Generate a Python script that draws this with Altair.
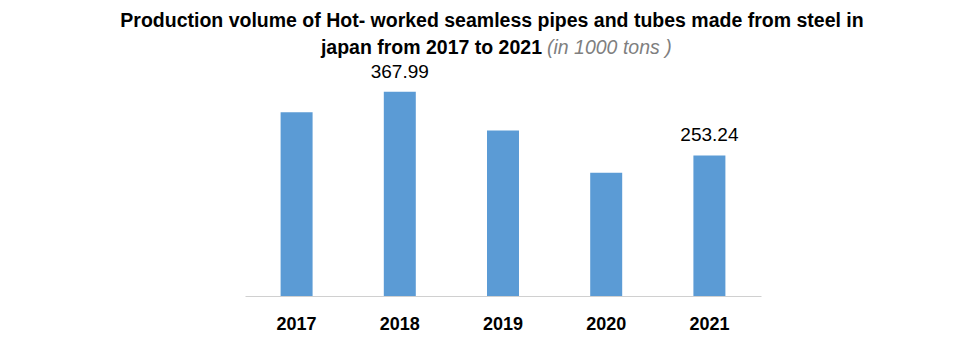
import altair as alt
import pandas as pd

years = ["2017", "2018", "2019", "2020", "2021"]
values = [331.0, 367.99, 298.0, 222.0, 253.24]
labels = ["", "367.99", "", "", "253.24"]

title_line1 = "Production volume of Hot- worked seamless pipes and tubes made from steel in"
title_line2a = "japan from 2017 to 2021"
title_line2b = "(in 1000 tons )"

df = pd.DataFrame({"year": years, "value": values, "label": labels})

FONT = "Liberation Sans"

x_enc = alt.X(
    "year:N",
    sort=years,
    scale=alt.Scale(paddingInner=0.69, paddingOuter=0.345),
    axis=alt.Axis(
        title=None, labelAngle=0, ticks=False, domainColor="#d0d0d0", domainWidth=1,
        labelFont=FONT, labelFontSize=18, labelFontWeight="bold", labelColor="#000000",
        labelPadding=19,
    ),
)
y_enc = alt.Y("value:Q", scale=alt.Scale(domain=[0, 400], nice=False), axis=None)

base = alt.Chart(df)
bars = base.mark_bar(color="#5b9bd5").encode(x=x_enc, y=y_enc)
text = base.mark_text(font=FONT, fontSize=19, color="#000000", baseline="alphabetic", dy=-14).encode(
    x=x_enc, y=y_enc, text="label:N"
)

t1 = alt.Chart(pd.DataFrame({"t": [title_line1]})).mark_text(
    font=FONT, fontSize=19.5, fontWeight="bold", color="#000000", align="center", baseline="alphabetic"
).encode(text="t:N", x=alt.value(247), y=alt.value(-47))
t2a = alt.Chart(pd.DataFrame({"t": [title_line2a]})).mark_text(
    font=FONT, fontSize=19.5, fontWeight="bold", color="#000000", align="right", baseline="alphabetic"
).encode(text="t:N", x=alt.value(297), y=alt.value(-20))
t2b = alt.Chart(pd.DataFrame({"t": [title_line2b]})).mark_text(
    font=FONT, fontSize=19.5, fontStyle="italic", color="#7f7f7f", align="left", baseline="alphabetic"
).encode(text="t:N", x=alt.value(302), y=alt.value(-20))

chart = alt.layer(bars, text, t1, t2a, t2b).properties(
    width=516, height=222,
    autosize=alt.AutoSizeParams(type="none"),
    padding={"left": 245, "top": 74, "right": 219, "bottom": 46},
    background="#ffffff",
).configure_view(stroke=None)

chart.save("out.html", embed_options={"renderer": "svg", "actions": False})
